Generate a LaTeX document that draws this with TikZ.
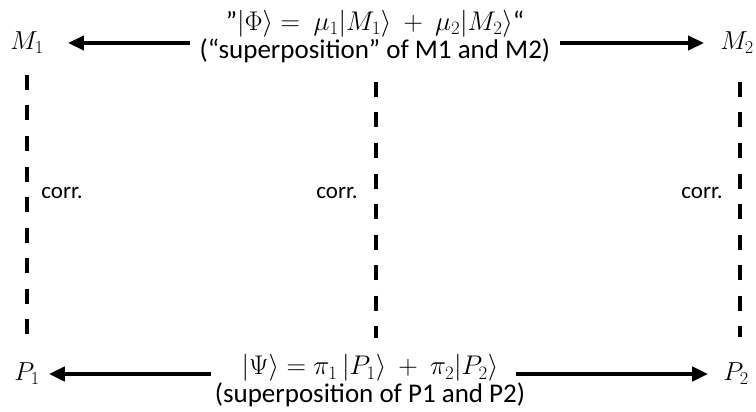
\documentclass[tikz,border=0pt]{standalone}
\usepackage{fix-cm}
\usepackage{fontspec}
\setmainfont{Carlito}
\usetikzlibrary{arrows.meta}
\pgfdeclarelayer{edgelayer}
\pgfdeclarelayer{nodelayer}
\pgfsetlayers{edgelayer,nodelayer,main}
\tikzstyle{state}=[inner sep=0pt, font=\fontsize{26}{28}\selectfont]
\tikzstyle{title}=[align=center, inner sep=0pt, font=\fontsize{27}{29}\selectfont]
\tikzstyle{corrlabel}=[inner sep=0pt, font=\fontsize{23}{25}\selectfont]
\tikzstyle{arrow}=[line width=4pt, -{Triangle[length=16pt,width=14pt]}]
\tikzstyle{link}=[line width=4.5pt, dash pattern=on 15pt off 15.5pt]

\begin{document}
\begin{tikzpicture}[x=1pt, y=-1pt]
	\useasboundingbox (0, 0) rectangle (756, 412);
	\begin{pgfonlayer}{nodelayer}
		\node [style=state] (M1) at (27, 43) {$M_1$};
		\node [style=state] (M2) at (737, 43) {$M_2$};
		\node [style=state] (P1) at (27, 374) {$P_1$};
		\node [style=state] (P2) at (736, 374) {$P_2$};
		\node [style=title] (phi) at (375, 37) {”$|\Phi\rangle =\ \mu_1|M_1\rangle\ +\ \mu_2|M_2\rangle$“\\[-1pt](“superposition” of M1 and M2)};
		\node [style=title] (psi) at (370, 381) {$|\Psi\rangle = \pi_1\,|P_1\rangle\ +\ \pi_2|P_2\rangle$\\[-1pt](superposition of P1 and P2)};
		\node [style=corrlabel] (c1) at (62, 193) {corr.};
		\node [style=corrlabel] (c2) at (337, 193) {corr.};
		\node [style=corrlabel] (c3) at (702, 193) {corr.};
		\coordinate (l1a) at (27, 75);
		\coordinate (l1b) at (27, 334);
		\coordinate (l2a) at (376, 82);
		\coordinate (l2b) at (376, 338);
		\coordinate (l3a) at (740, 82);
		\coordinate (l3b) at (740, 337);
	\end{pgfonlayer}
	\begin{pgfonlayer}{edgelayer}
		\draw [style=arrow, shorten <=10pt, shorten >=24pt] (phi.west |- M1) to (M1);
		\draw [style=arrow, shorten <=10pt, shorten >=16pt] (phi.east |- M2) to (M2);
		\draw [style=arrow, shorten <=4pt, shorten >=9pt] (psi.west |- P1) to (P1);
		\draw [style=arrow, shorten <=-9pt, shorten >=15pt] (psi.east |- P2) to (P2);
		\draw [style=link] (l1a) to (l1b);
		\draw [style=link] (l2a) to (l2b);
		\draw [style=link] (l3a) to (l3b);
	\end{pgfonlayer}
\end{tikzpicture}
\end{document}
